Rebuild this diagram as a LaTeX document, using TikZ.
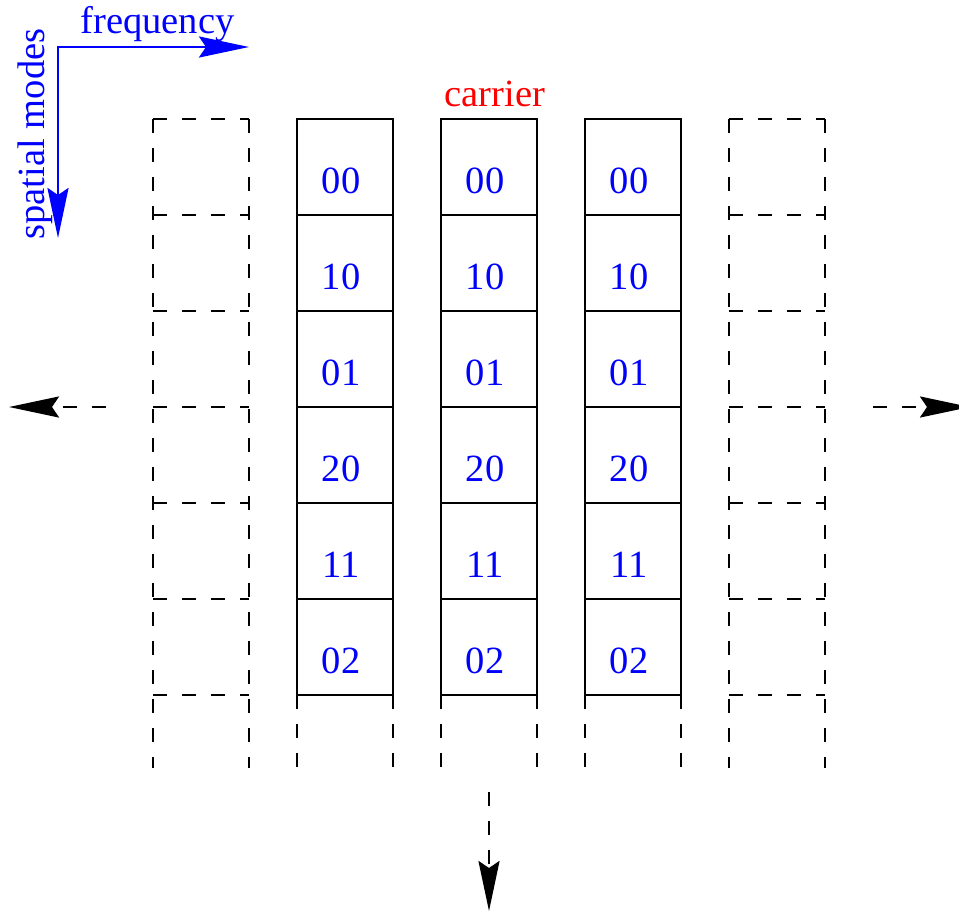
\documentclass[tikz,border=0pt]{standalone}
\usepackage{fontspec}
\setmainfont{Liberation Serif}
\usetikzlibrary{arrows.meta}
\begin{document}
\begin{tikzpicture}[x=1pt,y=-1pt,
  lw/.style={line width=2.6pt},
  dashline/.style={lw, dash pattern=on 14pt off 15pt},
  cell/.style={draw, lw, minimum width=96pt, minimum height=96pt, inner sep=0pt, outer sep=0pt},
  ghost/.style={minimum width=96pt, minimum height=96pt, inner sep=0pt, outer sep=0pt},
  lab/.style={text=blue, font=\fontsize{38.5pt}{40pt}\selectfont, anchor=base, inner sep=0pt},
  headarrow/.style={-{Stealth[length=50pt,width=21pt,inset=7pt]}},
]
\useasboundingbox (0,0) rectangle (959,911);

% solid columns
\foreach \c/\x in {1/345,2/489,3/633}{
  \foreach \r/\y/\txt in {1/167/00,2/263/10,3/359/01,4/455/20,5/551/11,6/647/02}{
    \node[cell] (c\c-\r) at (\x,\y) {};
    \node[lab] (t\c-\r) at ([xshift=-4pt,yshift=-26pt]c\c-\r.center) {\txt};
  }
  \draw[dashline] (c\c-6.south west) -- ++(0,73);
  \draw[dashline] (c\c-6.south east) -- ++(0,73);
}

% dashed columns
\foreach \c/\x in {L/201,R/777}{
  \foreach \r/\y in {1/167,2/263,3/359,4/455,5/551,6/647}{
    \node[ghost] (g\c-\r) at (\x,\y) {};
    \draw[dashline] (g\c-\r.north west) -- (g\c-\r.north east);
  }
  \draw[dashline] (g\c-6.south west) -- (g\c-6.south east);
  \draw[dashline] (g\c-1.north west) -- ++(0,649);
  \draw[dashline] (g\c-1.north east) -- ++(0,649);
}

% texts
\node[lab] (freq) at (157.5,33) {frequency};
\node[lab, rotate=90] (spat) at (45,134) {spatial modes};
\node[lab, text=red] (carrier) at (495,106) {carrier};

% axes
\coordinate (o) at (58,47);
\coordinate (fx) at (249,47);
\coordinate (sy) at (58,238);
\draw[blue, lw, {Stealth[length=50pt,width=21pt,inset=7pt]}-{Stealth[length=50pt,width=21pt,inset=7pt]}] (fx) -- (o) -- (sy);

% direction arrows
\coordinate (lS) at (106,407); \coordinate (lE) at (9,407);
\coordinate (rS) at (873,407); \coordinate (rE) at (970,407);
\coordinate (dS) at (489,792); \coordinate (dE) at (489,911);
\draw[dashline, headarrow] (lS) -- (lE);
\draw[dashline, headarrow] (rS) -- (rE);
\draw[dashline, headarrow] (dS) -- (dE);
\end{tikzpicture}
\end{document}
